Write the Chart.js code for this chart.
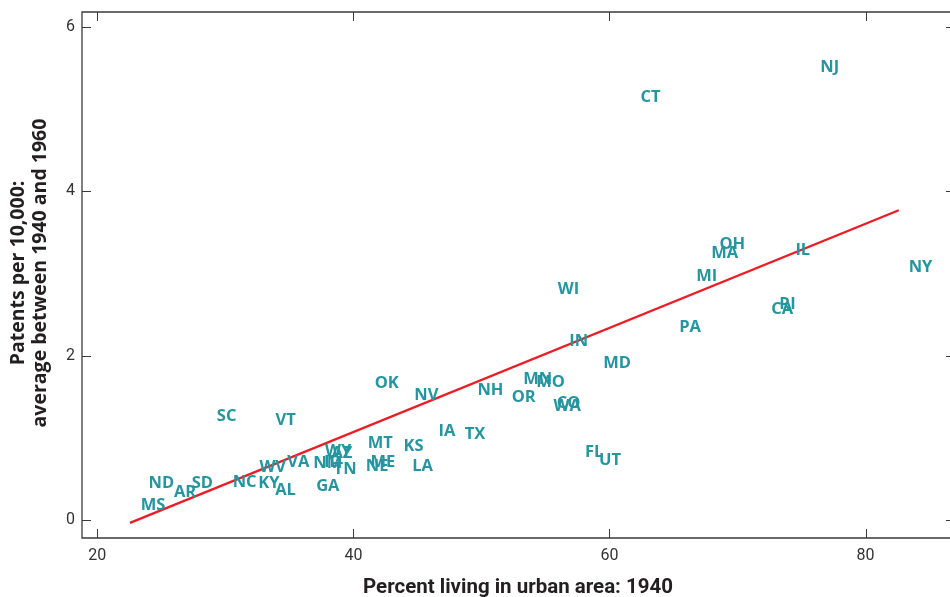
<!DOCTYPE html>
<html>
<head>
<meta charset="utf-8">
<script src="https://cdn.jsdelivr.net/npm/chart.js@4"></script>
<style>
  html, body { margin: 0; padding: 0; background: #fff; }
  canvas { display: block; }
</style>
</head>
<body>
<canvas id="urbanChart" width="950" height="597"></canvas>
<script>
// state labels, urban share 1940 (%), patents per 10,000
const states = ['NJ','CT','OH','MA','IL','NY','MI','WI','RI','CA','PA','IN','MD','MN','MO','NH','OR','CO','WA','FL','UT',
  'OK','NV','IA','TX','MT','KS','ME','NE','LA','SC','VT','WY','AZ','ID','NM','TN','NC','KY','WV','VA','AL','GA','ND','SD','AR','MS'];
const urban = [77.2,63.2,69.6,69.0,75.1,84.3,67.6,56.8,73.9,73.5,66.3,57.6,60.6,54.4,55.4,50.7,53.3,56.8,56.7,58.8,60.05,
  42.6,45.7,47.3,49.5,42.1,44.7,42.3,41.85,45.4,30.1,34.7,38.8,39.1,38.4,38.0,39.35,31.5,33.4,33.7,35.7,34.7,38.0,25.0,28.2,26.85,24.35];
const patents = [5.52,5.16,3.37,3.26,3.30,3.09,2.98,2.83,2.64,2.58,2.36,2.19,1.93,1.73,1.70,1.60,1.51,1.44,1.40,0.85,0.75,
  1.68,1.54,1.10,1.07,0.95,0.92,0.73,0.68,0.68,1.28,1.24,0.86,0.83,0.73,0.71,0.64,0.48,0.47,0.66,0.73,0.38,0.43,0.47,0.47,0.36,0.20];

// fitted line end points
const fitX = [22.55, 82.6];
const fitY = [-0.03, 3.77];

const xTicks = [20, 40, 60, 80];
const yTicks = [0, 2, 4, 6];

const teal = '#2596a0';
const red = '#ec1c24';
const axisColor = '#3a3a3a';

const framePlugin = {
  id: 'frame',
  afterDatasetsDraw(chart) {
    // state labels at the point positions
    const {ctx} = chart;
    const meta = chart.getDatasetMeta(0);
    ctx.save();
    ctx.font = 'bold 16.5px "Open Sans"';
    ctx.fillStyle = teal;
    ctx.textAlign = 'center';
    ctx.textBaseline = 'middle';
    meta.data.forEach((pt, i) => {
      ctx.fillText(states[i], pt.x, pt.y + 1.5);
    });
    ctx.restore();
  },
  afterDraw(chart) {
    const {ctx, chartArea: a, scales} = chart;
    const x = scales.x, y = scales.y;
    ctx.save();
    ctx.strokeStyle = axisColor;
    ctx.lineWidth = 1.3;
    ctx.beginPath();
    ctx.moveTo(a.right + 5, a.top);
    ctx.lineTo(a.left, a.top);
    ctx.lineTo(a.left, a.bottom);
    ctx.lineTo(a.right + 5, a.bottom);
    ctx.stroke();

    ctx.lineWidth = 1;
    ctx.beginPath();
    xTicks.forEach(v => {
      const px = Math.round(x.getPixelForValue(v)) + 0.5;
      ctx.moveTo(px, a.bottom); ctx.lineTo(px, a.bottom - 9);
      ctx.moveTo(px, a.top); ctx.lineTo(px, a.top + 9);
    });
    yTicks.forEach(v => {
      const py = Math.round(y.getPixelForValue(v)) + 0.5;
      ctx.moveTo(a.left, py); ctx.lineTo(a.left + 9, py);
      ctx.moveTo(a.right, py); ctx.lineTo(a.right - 4, py);
    });
    ctx.stroke();

    ctx.fillStyle = '#333';
    ctx.font = '16px Roboto';
    ctx.textAlign = 'center';
    ctx.textBaseline = 'middle';
    xTicks.forEach(v => ctx.fillText(String(v), x.getPixelForValue(v), 556));
    ctx.textAlign = 'right';
    yTicks.forEach(v => ctx.fillText(String(v), 75, y.getPixelForValue(v)));

    ctx.fillStyle = '#231f20';
    ctx.textAlign = 'center';
    ctx.font = 'bold 20.5px Roboto';
    ctx.fillText('Percent living in urban area: 1940', 518, 588);

    ctx.translate(29, 273);
    ctx.rotate(-Math.PI / 2);
    ctx.font = 'bold 19.5px "Open Sans"';
    ctx.fillText('Patents per 10,000:', 0, -11);
    ctx.fillText('average between 1940 and 1960', 0, 11);
    ctx.restore();
  }
};

new Chart(document.getElementById('urbanChart').getContext('2d'), {
  type: 'scatter',
  data: {
    datasets: [{
      label: 'States',
      data: urban.map((u, i) => ({x: u, y: patents[i]})),
      pointRadius: 0,
      pointHoverRadius: 0
    }, {
      type: 'line',
      label: 'Fit',
      data: fitX.map((u, i) => ({x: u, y: fitY[i]})),
      borderColor: red,
      borderWidth: 2.4,
      pointRadius: 0,
      fill: false
    }]
  },
  options: {
    responsive: false,
    animation: false,
    events: [],
    layout: { padding: { left: 82, top: 12, right: 0, bottom: 59 } },
    plugins: { legend: { display: false }, tooltip: { enabled: false } },
    scales: {
      x: { type: 'linear', display: false, min: 18.8, max: 86.6 },
      y: { type: 'linear', display: false, min: -0.214, max: 6.18 }
    }
  },
  plugins: [framePlugin]
});
</script>
</body>
</html>
